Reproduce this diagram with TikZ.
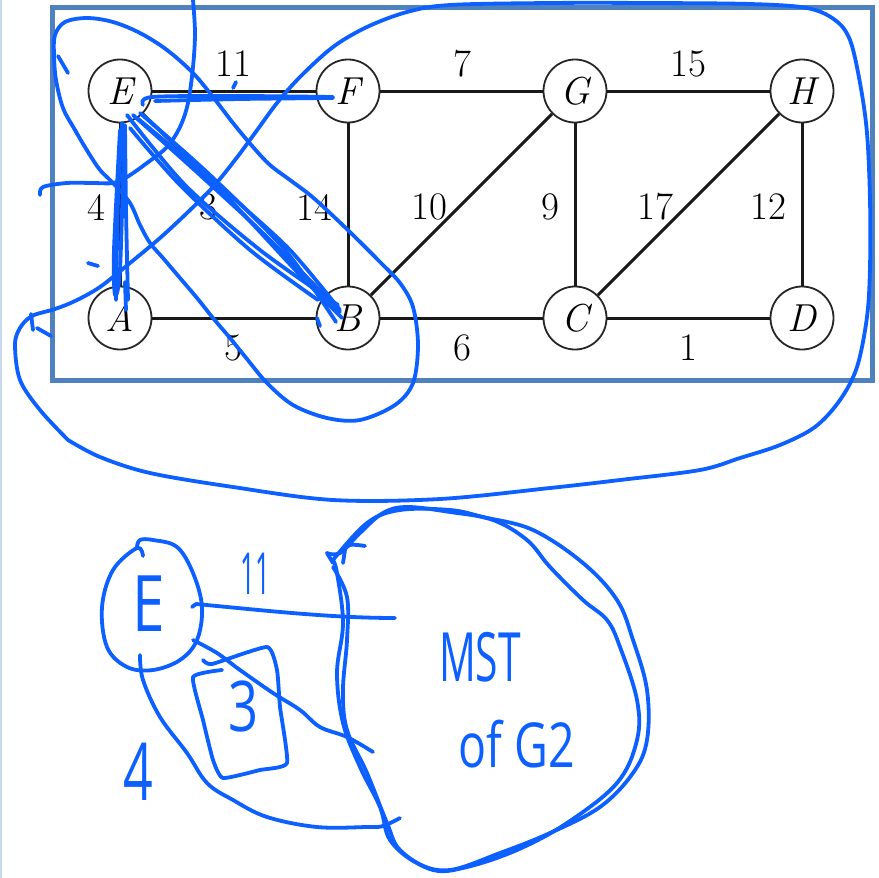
\documentclass[tikz,border=0pt]{standalone}
\usepackage{fontspec}
\newfontfamily\hand{Open Sans}
\definecolor{penblue}{RGB}{12,96,255}
\definecolor{framebl}{RGB}{79,129,189}
\definecolor{stripbl}{RGB}{200,218,240}
\begin{document}
\begin{tikzpicture}[x=1pt,y=-1pt,
  vtx/.style={circle,draw=black!85,line width=1.8pt,minimum size=63pt,inner sep=0pt,font=\fontsize{39}{40}\selectfont\itshape},
  elab/.style={font=\fontsize{39}{40}\selectfont,inner sep=0pt},
  edge/.style={line width=3pt,draw=black!90},
  pen/.style={line width=3.8pt,draw=penblue,line cap=round,line join=round},
  hw/.style={text=penblue,inner sep=0pt,font=\hand}
]
\useasboundingbox (0,0) rectangle (879,878);
\fill[white] (0,0) rectangle (879,878);
\fill[stripbl] (0,0) rectangle (2,878);
\draw[framebl,line width=5pt] (52.5,7.5) rectangle (872,380);

% graph
\node[vtx] (E) at (120,91) {E};
\node[vtx] (F) at (348,91) {F};
\node[vtx] (G) at (575,91) {G};
\node[vtx] (H) at (802,91) {H};
\node[vtx] (A) at (120,318) {A};
\node[vtx] (B) at (348,318) {B};
\node[vtx] (C) at (575,318) {C};
\node[vtx] (D) at (802,318) {D};
\draw[edge] (E) -- (F);
\draw[edge] (F) -- (G);
\draw[edge] (G) -- (H);
\draw[edge] (E) -- (A);
\draw[edge] (E) -- (B);
\draw[edge] (F) -- (B);
\draw[edge] (B) -- (G);
\draw[edge] (G) -- (C);
\draw[edge] (C) -- (H);
\draw[edge] (H) -- (D);
\draw[edge] (A) -- (B);
\draw[edge] (B) -- (C);
\draw[edge] (C) -- (D);
\node[elab] (lEF) at (233,64) {11};
\node[elab] (lFG) at (462,64) {7};
\node[elab] (lGH) at (688,64) {15};
\node[elab] (lEA) at (96,207) {4};
\node[elab] (lEB) at (208,207) {3};
\node[elab] (lFB) at (314,207) {14};
\node[elab] (lBG) at (429,207) {10};
\node[elab] (lGC) at (550,207) {9};
\node[elab] (lCH) at (655,207) {17};
\node[elab] (lHD) at (768,207) {12};
\node[elab] (lAB) at (233,348) {5};
\node[elab] (lBC) at (462,348) {6};
\node[elab] (lCD) at (688,348) {1};

% big loop
\draw[pen] plot[smooth,tension=0.55] coordinates {(68,440) (40,410) (20,380) (15,345) (20,328) (32,316) (55,309) (75,301) (100,287) (130,263) (160,238) (187,213) (213,187) (235,160) (255,133) (277,103) (300,77) (333,47) (367,27) (407,12) (450,5) (550,3) (650,3) (750,4) (807,8) (835,20) (850,40) (860,83) (867,133) (870,200) (870,267) (867,317) (857,367) (840,400) (815,427) (780,445) (740,458) (700,470) (620,480) (550,488) (440,499) (333,500) (233,487) (150,473) (100,457) (68,440)};
\draw[pen] (31,314) -- (33,330);
\draw[pen] (37,328) -- (51,336);

% loop around E, A, B
\draw[pen] plot[smooth cycle,tension=0.55] coordinates {(55,35) (65,22) (87,18) (113,22) (140,33) (167,50) (193,73) (213,97) (233,123) (253,147) (270,165) (290,180) (310,195) (330,213) (355,237) (380,262) (400,283) (413,307) (418,345) (413,383) (395,405) (360,420) (327,418) (293,405) (267,383) (247,359) (230,338) (213,318) (197,298) (180,278) (163,258) (150,243) (140,225) (130,203) (113,183) (100,170) (88,152) (75,130) (63,108) (56,80) (54,55)};
\draw[pen] (68,73) -- (58,56);

% stroke crossing to top
\draw[pen] plot[smooth,tension=0.55] coordinates {(40,195) (43,187) (67,183) (93,183) (113,183) (127,177) (147,163) (167,147) (180,127) (188,103) (193,67) (195,33) (193,0)};

% small marks
\draw[pen] (88,263) -- (98,266);
\draw[pen] (233,88) -- (236,82);
\draw[pen] (317,318) -- (320,326);

% E-F scribble
\draw[pen] plot[smooth,tension=0.5] coordinates {(143,105) (152,97) (240,96) (333,97)};
\draw[pen] plot[smooth,tension=0.5] coordinates {(333,98) (240,99) (155,101)};
% E-A scribble
\draw[pen] plot[smooth] coordinates {(122,123) (118,200) (116,300)};
\draw[pen] plot[smooth] coordinates {(125,125) (126,210) (128,300)};
\draw[pen] plot[smooth] coordinates {(120,130) (114,250) (115,295) (120,270) (124,140)};
\draw[pen] (125,282) -- (126,310);
% E-B scribble
\draw[pen] plot[smooth] coordinates {(127,115) (185,185) (260,250) (338,305)};
\draw[pen] plot[smooth] coordinates {(133,115) (200,175) (270,240) (340,312)};
\draw[pen] plot[smooth] coordinates {(140,113) (210,175) (285,250) (336,322)};
\draw[pen] plot[smooth] coordinates {(130,128) (180,185) (250,250) (318,300)};
\draw[pen] plot[smooth] coordinates {(137,118) (215,185) (300,275) (342,318)};
\draw[pen] plot[smooth] coordinates {(143,115) (230,195) (290,250) (340,310)};

% lower drawing: E circle
\draw[pen] plot[smooth,tension=0.6] coordinates {(143,556) (137,548) (113,570) (102,607) (107,647) (127,667) (153,670) (180,660) (197,640) (202,607) (193,573) (177,547) (153,540) (140,540) (137,547)};
\node[hw,font=\hand\fontsize{78}{80}\selectfont,xscale=0.75] (hE) at (149,604) {E};

% edges from E to MST blob
\coordinate (m11) at (395,618);
\coordinate (m3) at (373,752);
\coordinate (m4) at (400,818);
\draw[pen] (192,607) -- (196,604) .. controls (260,610) and (330,618) .. (m11);
\draw[pen] plot[smooth,tension=0.6] coordinates {(193,640) (217,653) (240,670) (273,693) (300,710) (320,727) (347,737) (373,752)};
\draw[pen] plot[smooth,tension=0.6] coordinates {(140,655) (143,680) (160,717) (187,753) (207,783) (233,800) (267,817) (317,827) (367,827) (383,826) (400,818)};
\node[hw,font=\hand\fontsize{58}{60}\selectfont,xscale=0.45] (h11) at (255,574) {11};
\node[hw,font=\hand\fontsize{80}{80}\selectfont,xscale=0.65] (h4) at (138,772) {4};

% box around 3
\draw[pen] plot[smooth,tension=0.3] coordinates {(203,660) (212,664) (267,647) (277,670) (280,707) (287,763) (260,770) (223,778) (213,760) (203,720) (193,677) (222,670)};
\node[hw,font=\hand\fontsize{70}{70}\selectfont,xscale=0.75] (h3) at (244,706) {3};

% MST blob (double loop)
\draw[pen] plot[smooth,tension=0.6] coordinates {(333,560) (367,523) (400,510) (450,510) (483,517) (533,530) (583,563) (617,600) (633,640) (647,690) (647,740) (633,773) (600,807) (550,833) (500,853) (450,870) (417,863) (390,840) (380,807) (360,767) (343,723) (337,673) (343,623) (337,573) (333,560)};
\draw[pen] plot[smooth,tension=0.6] coordinates {(333,567) (347,597) (347,640) (343,690) (347,730) (367,773) (387,823) (400,850) (433,870) (467,867) (517,850) (567,823) (617,783) (637,740) (637,700) (620,647) (607,620) (583,600) (550,567) (527,540) (493,520) (450,512) (407,507) (383,513) (360,533) (340,553) (327,553)};
\draw[pen] (327,553) -- (333,563);
\draw[pen] plot[smooth] coordinates {(340,553) (350,545) (365,546)};
\draw[pen] (343,563) -- (345,550);
\node[hw,font=\hand\fontsize{68}{70}\selectfont,xscale=0.6] (hMST) at (480,657) {MST};
\node[hw,font=\hand\fontsize{62}{64}\selectfont,xscale=0.75] (hG2) at (517,744) {of G2};
\end{tikzpicture}
\end{document}
